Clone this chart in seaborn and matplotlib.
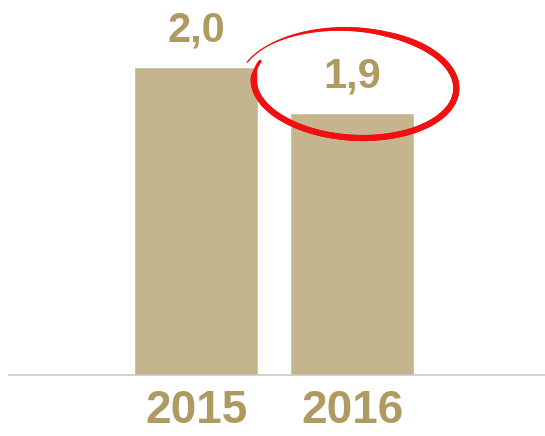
import numpy as np
import pandas as pd
import seaborn as sns
import matplotlib.pyplot as plt
from matplotlib.collections import LineCollection

years = ['2015', '2016']
values = [2.0, 1.9]

bar_color = '#C5B58F'
text_color = '#AF9B62'

df = pd.DataFrame({'year': years, 'value': values})

sns.set_style('white')
plt.rcParams['font.family'] = ['Liberation Sans', 'DejaVu Sans']

fig = plt.figure(figsize=(5.45, 4.36), dpi=100)
ax = fig.add_axes([9 / 545, 61 / 436, 536 / 545, 375 / 436])

sns.barplot(data=df, x='year', y='value', color=bar_color, saturation=1,
            width=0.79, ax=ax)

ax.set_xlim(-1.199, 2.237)
ax.set_ylim(1.33, 2.146)
ax.set_xlabel('')
ax.set_ylabel('')
ax.set_yticks([])
for side in ['top', 'right', 'left']:
    ax.spines[side].set_visible(False)
ax.spines['bottom'].set_color('#C8C8C8')
ax.spines['bottom'].set_linewidth(1.2)
ax.tick_params(axis='x', length=0, pad=10, labelsize=33, labelcolor=text_color)
for lab in ax.get_xticklabels():
    lab.set_fontweight('bold')

ax.bar_label(ax.containers[0],
             labels=[f'{v:.1f}'.replace('.', ',') for v in values],
             padding=12, fontsize=30, fontweight='bold', color=text_color)

# hand-drawn red circle around the 2016 value
t = np.linspace(np.radians(205), np.radians(-158), 300)
frac = np.linspace(0, 1, t.size)
a = 101 + 12 * np.clip((frac - 0.75) / 0.25, 0, 1)
b = 54 + 4 * np.clip((frac - 0.75) / 0.25, 0, 1)
px = 355 + a * np.cos(t) + 8 * np.sin(t)
py = 84 + b * np.sin(t)
pts = np.column_stack([px / 545, 1 - py / 436]).reshape(-1, 1, 2)
segs = np.concatenate([pts[:-1], pts[1:]], axis=1)
widths = 4.4 * np.clip(frac[:-1] / 0.05, 0.5, 1) * np.clip((1 - frac[:-1]) / 0.3, 0.2, 1)
lc = LineCollection(segs, linewidths=widths, colors='#F01010',
                    transform=fig.transFigure, capstyle='round', zorder=10)
fig.add_artist(lc)

fig.savefig('out.png', dpi=100)
